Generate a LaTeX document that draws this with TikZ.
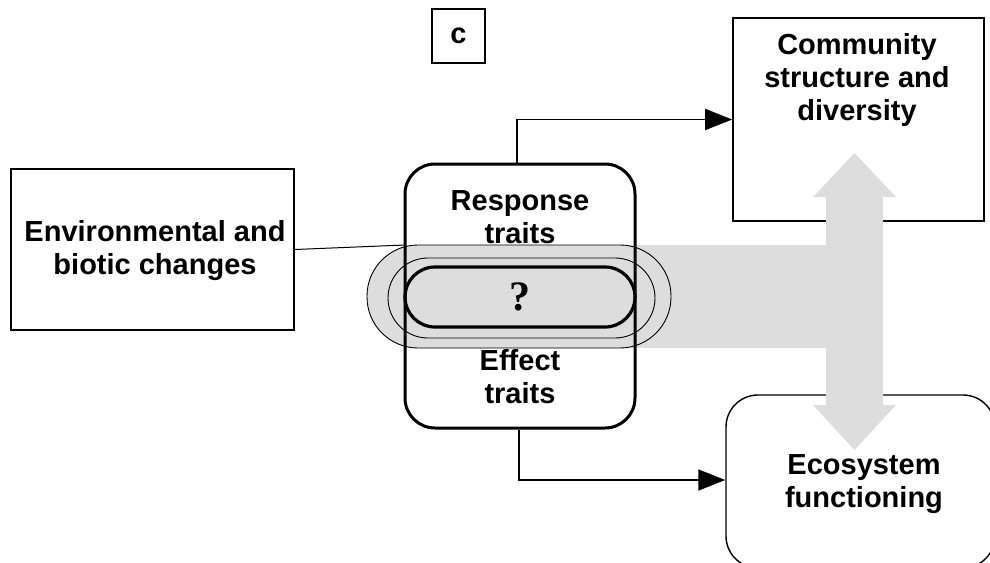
\documentclass[tikz,border=0pt]{standalone}
\usepackage{fontspec}
\setmainfont{Liberation Sans}
\newfontfamily\qfont{Liberation Serif}
\usetikzlibrary{arrows.meta,calc}
\definecolor{band}{HTML}{DDDDDD}
\tikzset{
  lbl/.style={font=\fontsize{29}{33}\selectfont\bfseries, align=center, inner sep=0pt},
  plainbox/.style={draw, line width=#1, inner sep=0pt},
  arr/.style={line width=1.6pt, -{Triangle[length=27pt,width=21pt]}},
  thinring/.style={draw, line width=0.9pt},
}
\begin{document}
\begin{tikzpicture}[x=1pt,y=-1pt]
\useasboundingbox (0,0) rectangle (990,562);
\clip (0,0) rectangle (990,562);
% boxes
\node[plainbox=2pt, minimum width=53pt, minimum height=54pt, lbl] (cbox) at (458.5,36) {c};
\node[plainbox=1.6pt, minimum width=251pt, minimum height=203pt] (comm) at (858.5,119.5) {};
\node[lbl] (commtxt) at (857,80) {Community\\structure and\\diversity};
\node[plainbox=1.4pt, rounded corners=32pt, minimum width=269pt, minimum height=173pt] (eco) at (860.5,481.5) {};
\node[lbl] (ecotxt) at (864,484) {Ecosystem\\functioning};
\node[plainbox=1.8pt, minimum width=283pt, minimum height=161pt, lbl] (env) at (152.5,249.5) {};
\node[lbl] (envtxt) at (155,251) {Environmental and\\biotic changes};
% central box white background
\node[fill=white, rounded corners=30pt, minimum width=230pt, minimum height=264pt, inner sep=0pt] (midbg) at (520,296) {};
% gray band and double arrow
\fill[band] (600,245) rectangle (840,348);
\fill[band] (854.5,153) -- (896,197) -- (883,197) -- (883,405) -- (896,405) -- (854.5,450) -- (813,405) -- (826,405) -- (826,197) -- (813,197) -- cycle;
% stadiums
\node[thinring, fill=band, rounded corners=51pt, minimum width=304pt, minimum height=103pt, inner sep=0pt] (outer) at (519,296.5) {};
\node[thinring, rounded corners=40pt, minimum width=267pt, minimum height=80pt, inner sep=0pt] (middle) at (521.5,298) {};
\node[draw, line width=3.2pt, fill=band, rounded corners=30pt, minimum width=230pt, minimum height=60pt, inner sep=0pt, font=\qfont\fontsize{42}{42}\selectfont\bfseries] (inner) at (520,297) {?};
% central box outline
\node[draw, line width=3pt, rounded corners=30pt, minimum width=230pt, minimum height=264pt, inner sep=0pt] (mid) at (520,296) {};
\node[lbl] (resptxt) at (520,217) {Response\\traits};
\node[lbl] (efftxt) at (520,377) {Effect\\traits};
% connectors
\coordinate (envend) at (405,245);
\draw[line width=1pt] (env.east) -- (envend);
\draw[arr] ([xshift=-3pt]mid.north) |- (comm.west);
\draw[arr] ([xshift=-1pt]mid.south) |- ([yshift=1.5pt]eco.west);
\end{tikzpicture}
\end{document}
